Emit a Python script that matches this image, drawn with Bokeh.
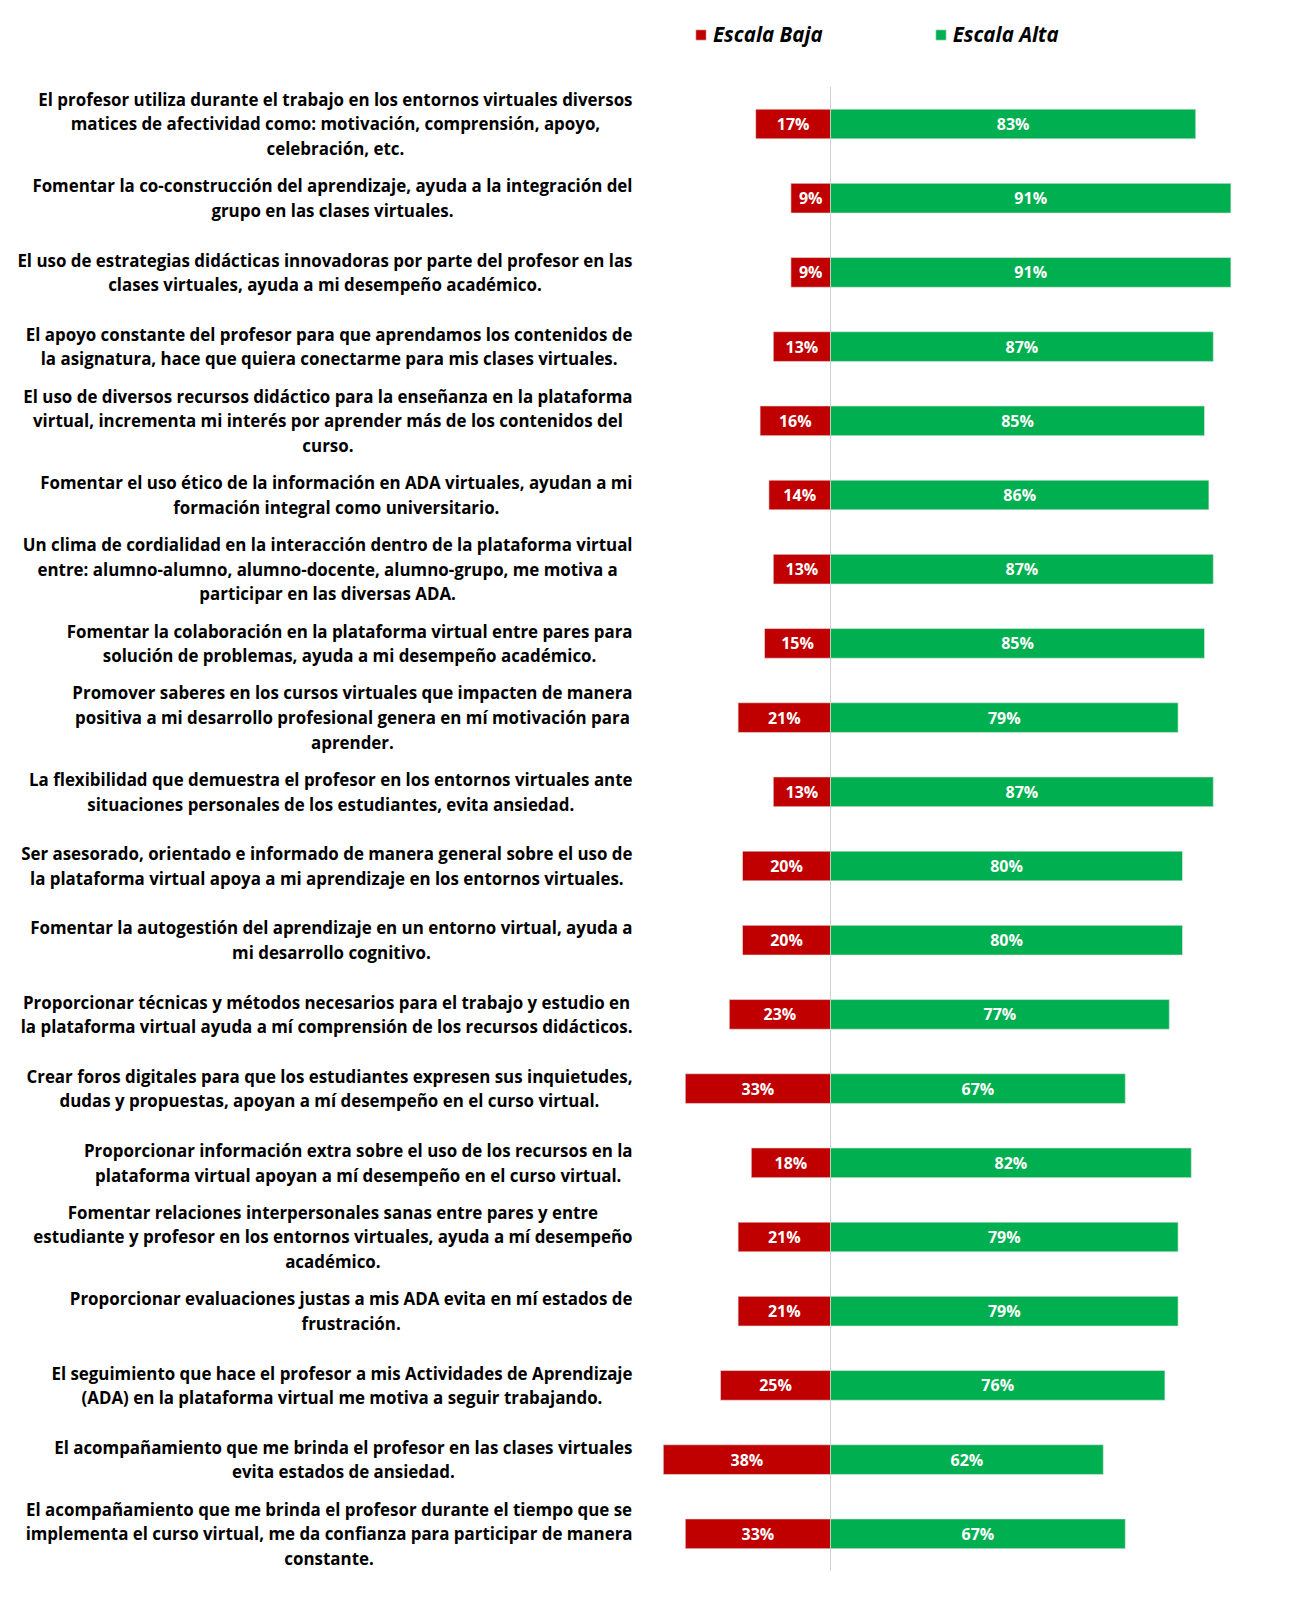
from bokeh.plotting import figure
from bokeh.models import Range1d, ColumnDataSource, Legend, LegendItem
from bokeh.embed import file_html
from bokeh.resources import INLINE
from bokeh.core.properties import value

statements = [
    "El profesor utiliza durante el trabajo en los entornos virtuales diversos\nmatices de afectividad como: motivación, comprensión, apoyo,\ncelebración, etc.",
    "Fomentar la co-construcción del aprendizaje, ayuda a la integración del\ngrupo en las clases virtuales.",
    "El uso de estrategias didácticas innovadoras por parte del profesor en las\nclases virtuales, ayuda a mi desempeño académico.",
    "El apoyo constante del profesor para que aprendamos los contenidos de\nla asignatura, hace que quiera conectarme para mis clases virtuales.",
    "El uso de diversos recursos didáctico para la enseñanza en la plataforma\nvirtual, incrementa mi interés por aprender más de los contenidos del\ncurso.",
    "Fomentar el uso ético de la información en ADA virtuales, ayudan a mi\nformación integral como universitario.",
    "Un clima de cordialidad en la interacción dentro de la plataforma virtual\nentre: alumno-alumno, alumno-docente, alumno-grupo, me motiva a\nparticipar en las diversas ADA.",
    "Fomentar la colaboración en la plataforma virtual entre pares para\nsolución de problemas, ayuda a mi desempeño académico.",
    "Promover saberes en los cursos virtuales que impacten de manera\npositiva a mi desarrollo profesional genera en mí motivación para\naprender.",
    "La flexibilidad que demuestra el profesor en los entornos virtuales ante\nsituaciones personales de los estudiantes, evita ansiedad.",
    "Ser asesorado, orientado e informado de manera general sobre el uso de\nla plataforma virtual apoya a mi aprendizaje en los entornos virtuales.",
    "Fomentar la autogestión del aprendizaje en un entorno virtual, ayuda a\nmi desarrollo cognitivo.",
    "Proporcionar técnicas y métodos necesarios para el trabajo y estudio en\nla plataforma virtual ayuda a mí comprensión de los recursos didácticos.",
    "Crear foros digitales para que los estudiantes expresen sus inquietudes,\ndudas y propuestas, apoyan a mí desempeño en el curso virtual.",
    "Proporcionar información extra sobre el uso de los recursos en la\nplataforma virtual apoyan a mí desempeño en el curso virtual.",
    "Fomentar relaciones interpersonales sanas entre pares y entre\nestudiante y profesor en los entornos virtuales, ayuda a mí desempeño\nacadémico.",
    "Proporcionar evaluaciones justas a mis ADA evita en mí estados de\nfrustración.",
    "El seguimiento que hace el profesor a mis Actividades de Aprendizaje\n(ADA) en la plataforma virtual me motiva a seguir trabajando.",
    "El acompañamiento que me brinda el profesor en las clases virtuales\nevita estados de ansiedad.",
    "El acompañamiento que me brinda el profesor durante el tiempo que se\nimplementa el curso virtual, me da confianza para participar de manera\nconstante.",
]
escala_baja = [17, 9, 9, 13, 16, 14, 13, 15, 21, 13, 20, 20, 23, 33, 18, 21, 21, 25, 38, 33]
escala_alta = [83, 91, 91, 87, 85, 86, 87, 85, 79, 87, 80, 80, 77, 67, 82, 79, 79, 76, 62, 67]
series_names = ["Escala Baja", "Escala Alta"]

RED = "#C00000"
GREEN = "#00B050"
FONT = "Open Sans"

W, H = 1280, 1584
center_px = 830.0
px_per_pct = 4.4
row_top_px = 123.5
row_px = 74.2
label_right_px = 632.0

n = len(statements)
idx = list(range(n))

x_range = Range1d(-center_px / px_per_pct, (W - center_px) / px_per_pct)
y_range = Range1d((H - row_top_px) / row_px, -row_top_px / row_px)

p = figure(width=W, height=H, x_range=x_range, y_range=y_range,
           output_backend="svg", toolbar_location=None, min_border=0,
           x_axis_location=None, y_axis_location=None)
p.grid.visible = False
p.outline_line_color = None
p.background_fill_color = "white"

src = ColumnDataSource(dict(
    y=idx,
    baja=escala_baja,
    alta=escala_alta,
    neg_baja=[-v for v in escala_baja],
    baja_mid=[-v / 2 for v in escala_baja],
    alta_mid=[v / 2 for v in escala_alta],
    baja_lbl=[f"{v}%" for v in escala_baja],
    alta_lbl=[f"{v}%" for v in escala_alta],
    stmt=statements,
))

# centre line
p.segment(x0=[0], y0=[-0.5], x1=[0], y1=[n - 0.5], line_color="#D0D0D0", line_width=1)

bar_h = 0.40
r_baja = p.hbar(y="y", left="neg_baja", right=0, height=bar_h, source=src,
                fill_color=RED, line_color="#E6E6E6", line_width=0.6)
r_alta = p.hbar(y="y", left=0, right="alta", height=bar_h, source=src,
                fill_color=GREEN, line_color="#E6E6E6", line_width=0.6)

p.text(x="baja_mid", y="y", text="baja_lbl", source=src, text_align="center",
       text_baseline="middle", text_color="white", text_font=value(FONT),
       text_font_style="bold", text_font_size="16px")
p.text(x="alta_mid", y="y", text="alta_lbl", source=src, text_align="center",
       text_baseline="middle", text_color="white", text_font=value(FONT),
       text_font_style="bold", text_font_size="16px")

label_x = (label_right_px - center_px) / px_per_pct
p.text(x=label_x, y="y", text="stmt", source=src, anchor="center_right",
       text_align="center", text_baseline="middle", text_color="black",
       text_font=value(FONT), text_font_style="bold", text_font_size="16.9px",
       text_line_height=1.07)

legend = Legend(items=[LegendItem(label=series_names[0], renderers=[r_baja]),
                       LegendItem(label=series_names[1], renderers=[r_alta])],
                orientation="horizontal", location=(694, H - 48),
                glyph_width=13, glyph_height=13, label_standoff=6, spacing=111,
                label_text_font=FONT, label_text_font_style="bold italic",
                label_text_font_size="20.5px", label_text_color="black",
                label_height=24, padding=0, margin=0, border_line_color=None,
                background_fill_alpha=0)
p.add_layout(legend)

open("out.html", "w").write(file_html(p, INLINE))
